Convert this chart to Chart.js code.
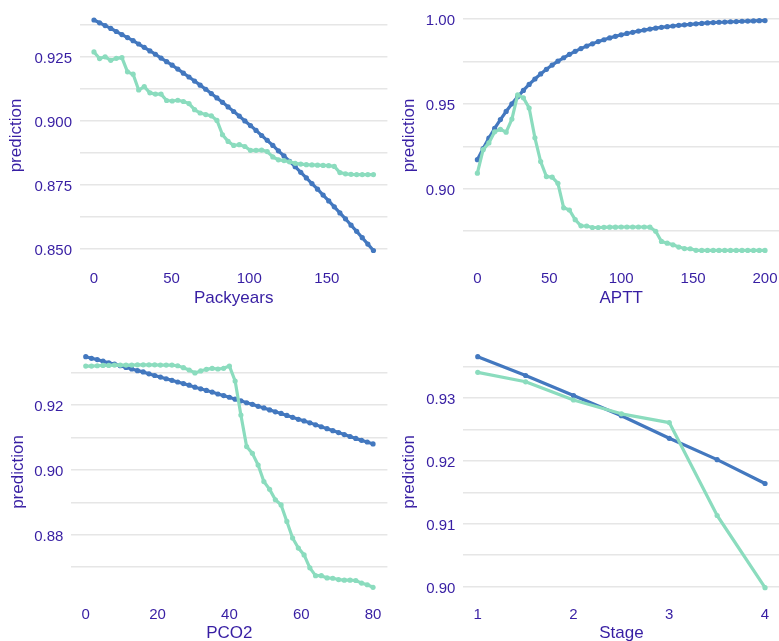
<!DOCTYPE html>
<html>
<head>
<meta charset="utf-8">
<script src="https://cdn.jsdelivr.net/npm/chart.js@4.4.0/dist/chart.umd.min.js"></script>
<style>
html,body{margin:0;padding:0;width:779px;height:641px;overflow:hidden;background:#ffffff;}
canvas{position:absolute;display:block;}
</style>
</head>
<body>
<canvas id="pPack" width="390" height="320" style="left:0px;top:0px"></canvas>
<canvas id="pAptt" width="392" height="320" style="left:390px;top:0px"></canvas>
<canvas id="pPco2" width="390" height="340" style="left:0px;top:320px"></canvas>
<canvas id="pStage" width="392" height="340" style="left:390px;top:320px"></canvas>
<script>
// ---------- data ----------
const packyearsX = [0,3.6,7.2,10.8,14.4,18,21.6,25.2,28.8,32.4,36,39.6,43.2,46.8,50.4,54,57.6,61.2,64.8,68.4,72,75.6,79.2,82.8,86.4,90,93.6,97.2,100.8,104.4,108,111.6,115.2,118.8,122.4,126,129.6,133.2,136.8,140.4,144,147.6,151.2,154.8,158.4,162,165.6,169.2,172.8,176.4,180];
const packyearsBlue = [0.9395,0.9384,0.9373,0.9362,0.9350,0.9338,0.9326,0.9314,0.9301,0.9288,
  0.9274,0.9261,0.9246,0.9232,0.9218,0.9203,0.9187,0.9172,0.9156,0.9140,
  0.9124,0.9107,0.9090,0.9073,0.9055,0.9037,0.9019,0.9000,0.8982,0.8963,
  0.8943,0.8924,0.8904,0.8883,0.8863,0.8842,0.8821,0.8799,0.8777,0.8755,
  0.8733,0.8710,0.8687,0.8664,0.8640,0.8617,0.8592,0.8568,0.8543,0.8518,0.8493];
const packyearsGreen = [0.9270,0.9244,0.9251,0.9237,0.9245,0.9248,0.9192,0.9183,0.9121,0.9134,
  0.9110,0.9105,0.9105,0.9080,0.9078,0.9081,0.9076,0.9068,0.9044,0.9031,
  0.9025,0.9020,0.9002,0.8946,0.8920,0.8904,0.8907,0.8900,0.8885,0.8885,
  0.8886,0.8880,0.8859,0.8848,0.8845,0.8840,0.8834,0.8831,0.8829,0.8828,
  0.8827,0.8826,0.8825,0.8822,0.8798,0.8793,0.8791,0.8790,0.8790,0.8790,0.8790];

const apttX = [0,4,8,12,16,20,24,28,32,36,40,44,48,52,56,60,64,68,72,76,80,84,88,92,96,100,104,108,112,116,120,124,128,132,136,140,144,148,152,156,160,164,168,172,176,180,184,188,192,196,200];
const apttBlue = [0.9171,0.9237,0.9298,0.9355,0.9407,0.9455,0.9500,0.9541,0.9579,0.9614,
  0.9646,0.9676,0.9703,0.9728,0.9751,0.9771,0.9791,0.9809,0.9825,0.9840,
  0.9853,0.9866,0.9877,0.9888,0.9897,0.9906,0.9914,0.9921,0.9928,0.9934,
  0.9940,0.9945,0.9950,0.9954,0.9958,0.9962,0.9965,0.9968,0.9971,0.9973,
  0.9976,0.9978,0.9980,0.9981,0.9983,0.9984,0.9986,0.9987,0.9988,0.9989,0.9990];
const apttGreen = [0.9092,0.9230,0.9270,0.9335,0.9350,0.9333,0.9410,0.9553,0.9535,0.9475,
  0.9300,0.9160,0.9072,0.9068,0.9032,0.8888,0.8875,0.8818,0.8782,0.8781,
  0.8772,0.8772,0.8773,0.8774,0.8774,0.8775,0.8775,0.8775,0.8775,0.8775,
  0.8774,0.8750,0.8690,0.8680,0.8670,0.8657,0.8648,0.8647,0.8638,0.8637,
  0.8637,0.8637,0.8637,0.8637,0.8637,0.8637,0.8637,0.8637,0.8637,0.8637,0.8637];

const pco2X = [0,1.6,3.2,4.8,6.4,8,9.6,11.2,12.8,14.4,16,17.6,19.2,20.8,22.4,24,25.6,27.2,28.8,30.4,32,33.6,35.2,36.8,38.4,40,41.6,43.2,44.8,46.4,48,49.6,51.2,52.8,54.4,56,57.6,59.2,60.8,62.4,64,65.6,67.2,68.8,70.4,72,73.6,75.2,76.8,78.4,80];
const pco2Blue = [0.9349,0.9344,0.9340,0.9335,0.9330,0.9326,0.9321,0.9316,0.9311,0.9306,
  0.9302,0.9296,0.9291,0.9286,0.9281,0.9276,0.9271,0.9266,0.9261,0.9255,
  0.9250,0.9245,0.9240,0.9234,0.9229,0.9224,0.9218,0.9213,0.9207,0.9202,
  0.9196,0.9191,0.9185,0.9179,0.9174,0.9168,0.9162,0.9156,0.9151,0.9145,
  0.9139,0.9133,0.9127,0.9121,0.9115,0.9109,0.9103,0.9097,0.9091,0.9086,0.9080];
const pco2Green = [0.9320,0.9320,0.9321,0.9322,0.9322,0.9323,0.9323,0.9323,0.9323,0.9324,
  0.9324,0.9324,0.9324,0.9323,0.9323,0.9323,0.9321,0.9315,0.9308,0.9299,
  0.9305,0.9310,0.9313,0.9311,0.9313,0.9320,0.9274,0.9169,0.9072,0.9051,
  0.9015,0.8964,0.8940,0.8908,0.8892,0.8841,0.8790,0.8759,0.8738,0.8698,
  0.8674,0.8674,0.8667,0.8666,0.8662,0.8660,0.8660,0.8659,0.8651,0.8646,0.8638];

const stageX = [1,1.5,2,2.5,3,3.5,4];
const stageBlue = [0.9366,0.9336,0.9304,0.9272,0.9236,0.9202,0.9164];
const stageGreen = [0.9341,0.9326,0.9297,0.9275,0.9261,0.9113,0.8998];

// tick values and labels
const packXTicks = [0,50,100,150];
const packXLabels = ['0','50','100','150'];
const packYTicks = [0.850,0.875,0.900,0.925];
const packYLabels = ['0.850','0.875','0.900','0.925'];
const packYGrid = [0.850,0.8625,0.875,0.8875,0.900,0.9125,0.925,0.9375];

const apttXTicks = [0,50,100,150,200];
const apttXLabels = ['0','50','100','150','200'];
const apttYTicks = [0.90,0.95,1.00];
const apttYLabels = ['0.90','0.95','1.00'];
const apttYGrid = [0.875,0.90,0.925,0.95,0.975,1.00];

const pco2XTicks = [0,20,40,60,80];
const pco2XLabels = ['0','20','40','60','80'];
const pco2YTicks = [0.88,0.90,0.92];
const pco2YLabels = ['0.88','0.90','0.92'];
const pco2YGrid = [0.87,0.88,0.89,0.90,0.91,0.92,0.93];

const stageXTicks = [1,2,3,4];
const stageXLabels = ['1','2','3','4'];
const stageYTicks = [0.90,0.91,0.92,0.93];
const stageYLabels = ['0.90','0.91','0.92','0.93'];
const stageYGrid = [0.90,0.905,0.91,0.915,0.92,0.925,0.93,0.935];

// ---------- style ----------
const BLUE = '#4378bf', GREEN = '#8bdcbe', INK = '#371ea3', GRID = '#e6e6e6';
const FONT = "'Liberation Sans', Arial, Helvetica, sans-serif";

function pts(xs, ys) { return xs.map((x, i) => ({ x: x, y: ys[i] })); }
function near(list, v) { return list.findIndex(t => Math.abs(t - v) < 1e-9); }

function panel(id, o) {
  new Chart(document.getElementById(id), {
    type: 'line',
    data: { datasets: [
      { label: 'ranger', data: pts(o.x, o.green), borderColor: GREEN, backgroundColor: GREEN, pointBackgroundColor: GREEN },
      { label: 'glm', data: pts(o.x, o.blue), borderColor: BLUE, backgroundColor: BLUE, pointBackgroundColor: BLUE }
    ]},
    options: {
      responsive: false, animation: false, devicePixelRatio: 1, events: [],
      layout: { padding: o.pad },
      plugins: { legend: { display: false }, tooltip: { enabled: false } },
      elements: {
        line: { borderWidth: 3.2, tension: 0, borderCapStyle: 'round', borderJoinStyle: 'round' },
        point: { radius: 2.6, borderWidth: 0, hoverRadius: 2.6 }
      },
      scales: {
        x: {
          type: 'linear', min: o.xMin, max: o.xMax, bounds: 'data',
          grid: { display: false, drawTicks: false }, border: { display: false },
          ticks: { color: INK, font: { family: FONT, size: 15 }, padding: o.xTickPad, autoSkip: false, maxRotation: 0,
            callback: v => { const k = near(o.xTicks, v); return k >= 0 ? o.xLabels[k] : ''; } },
          afterBuildTicks: a => { a.ticks = o.xTicks.map(v => ({ value: v })); },
          afterFit: a => { a.height = o.xH; a.paddingLeft = 0; a.paddingRight = 0; },
          title: { display: true, text: o.xTitle, color: INK, font: { family: FONT, size: 17 }, padding: { top: 0, bottom: o.xTitlePad } }
        },
        y: {
          type: 'linear', min: o.yMin, max: o.yMax, bounds: 'data',
          grid: { color: GRID, lineWidth: 1.5, drawTicks: false }, border: { display: false },
          ticks: { color: INK, font: { family: FONT, size: 15 }, padding: 8, autoSkip: false, labelOffset: 2,
            callback: v => { const k = near(o.yTicks, v); return k >= 0 ? o.yLabels[k] : ''; } },
          afterBuildTicks: a => { a.ticks = o.yGrid.map(v => ({ value: v })); },
          afterFit: a => { a.width = o.yW; a.paddingTop = 0; a.paddingBottom = 0; },
          title: { display: true, text: 'prediction', color: INK, font: { family: FONT, size: 17 }, padding: { top: o.yTitlePad, bottom: 0 } }
        }
      }
    }
  });
}

panel('pPack', { x: packyearsX, blue: packyearsBlue, green: packyearsGreen,
  xTicks: packXTicks, xLabels: packXLabels, yTicks: packYTicks, yLabels: packYLabels, yGrid: packYGrid,
  xMin: -9, xMax: 189, yMin: 0.8448, yMax: 0.9438, xTitle: 'Packyears',
  pad: { left: 0, top: 9, right: 1, bottom: 0 }, yW: 80, xH: 58, xTickPad: 8, xTitlePad: 11, yTitlePad: 6.6 });

panel('pAptt', { x: apttX, blue: apttBlue, green: apttGreen,
  xTicks: apttXTicks, xLabels: apttXLabels, yTicks: apttYTicks, yLabels: apttYLabels, yGrid: apttYGrid,
  xMin: -10, xMax: 210, yMin: 0.8569, yMax: 1.0058, xTitle: 'APTT',
  pad: { left: 0, top: 9, right: 0, bottom: 0 }, yW: 73, xH: 58, xTickPad: 8, xTitlePad: 11, yTitlePad: 9.3 });

panel('pPco2', { x: pco2X, blue: pco2Blue, green: pco2Green,
  xTicks: pco2XTicks, xLabels: pco2XLabels, yTicks: pco2YTicks, yLabels: pco2YLabels, yGrid: pco2YGrid,
  xMin: -4, xMax: 84, yMin: 0.8602, yMax: 0.9385, xTitle: 'PCO2',
  pad: { left: 0, top: 25, right: 0.5, bottom: 0 }, yW: 71.4, xH: 61, xTickPad: 7, xTitlePad: 16, yTitlePad: 8 });

panel('pStage', { x: stageX, blue: stageBlue, green: stageGreen,
  xTicks: stageXTicks, xLabels: stageXLabels, yTicks: stageYTicks, yLabels: stageYLabels, yGrid: stageYGrid,
  xMin: 0.85, xMax: 4.15, yMin: 0.898, yMax: 0.93846, xTitle: 'Stage',
  pad: { left: 0, top: 25, right: 0.8, bottom: 0 }, yW: 73.4, xH: 61, xTickPad: 7, xTitlePad: 16, yTitlePad: 9.3 });
</script>
</body>
</html>
